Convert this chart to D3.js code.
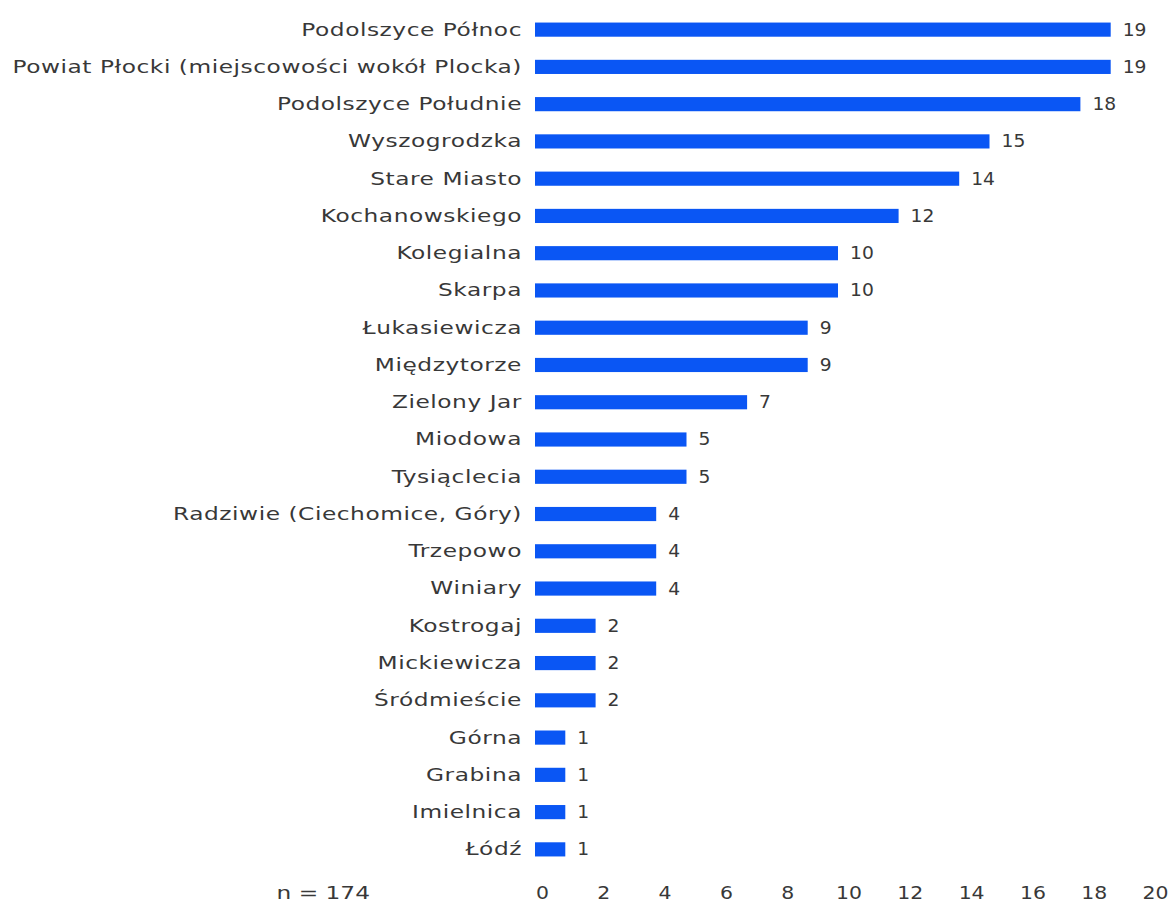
<!DOCTYPE html>
<html>
<head>
<meta charset="utf-8">
<script src="https://cdn.jsdelivr.net/npm/d3@7"></script>
<style>
  body { margin: 0; background: #fff; }
  svg text { font-family: "DejaVu Sans", sans-serif; fill: #383838; font-size: 17px; }
</style>
</head>
<body>
<svg id="chart" width="1172" height="907"></svg>
<script>
// data
var categories = [
    'Podolszyce Północ',
    'Powiat Płocki (miejscowości wokół Plocka)',
    'Podolszyce Południe',
    'Wyszogrodzka',
    'Stare Miasto',
    'Kochanowskiego',
    'Kolegialna',
    'Skarpa',
    'Łukasiewicza',
    'Międzytorze',
    'Zielony Jar',
    'Miodowa',
    'Tysiąclecia',
    'Radziwie (Ciechomice, Góry)',
    'Trzepowo',
    'Winiary',
    'Kostrogaj',
    'Mickiewicza',
    'Śródmieście',
    'Górna',
    'Grabina',
    'Imielnica',
    'Łódź'
];
var counts = [19, 19, 18, 15, 14, 12, 10, 10, 9, 9, 7, 5, 5, 4, 4, 4, 2, 2, 2, 1, 1, 1, 1];
var tickValues = [0, 2, 4, 6, 8, 10, 12, 14, 16, 18, 20];
var sampleNote = 'n = 174';

var data = categories.map(function(c, i) {
    return {name: c, value: counts[i]};
});

var svg = d3.select('#chart');

// original font is a wide geometric sans, so stretch DejaVu a bit
var stretch = 1.37;

var xScale = d3.scaleLinear()
    .domain([0, 20])
    .range([535, 1141]);

// the tick labels in the picture sit on a slightly wider spread than the bars
var axisScale = d3.scaleLinear()
    .domain([0, 20])
    .range([542, 1155]);

var yScale = d3.scaleBand()
    .domain(categories)
    .range([11, 868])
    .paddingInner(0.62)
    .paddingOuter(0.31);

var g = svg.append('g');

g.selectAll('rect.bar')
    .data(data)
    .join('rect')
    .attr('class', 'bar')
    .attr('x', xScale(0))
    .attr('y', function(d) { return yScale(d.name); })
    .attr('width', function(d) { return xScale(d.value) - xScale(0); })
    .attr('height', yScale.bandwidth())
    .style('fill', '#0a56f4');

g.selectAll('text.cat')
    .data(data)
    .join('text')
    .attr('class', 'cat')
    .attr('transform', function(d) {
        return `translate(522,${yScale(d.name) + yScale.bandwidth() / 2}) scale(${stretch},1)`;
    })
    .attr('dy', '0.35em')
    .attr('text-anchor', 'end')
    .style('letter-spacing', '0.4px')
    .text(function(d) { return d.name; });

g.selectAll('text.val')
    .data(data)
    .join('text')
    .attr('class', 'val')
    .attr('transform', function(d) {
        return `translate(${xScale(d.value) + 12},${yScale(d.name) + yScale.bandwidth() / 2}) scale(1.1,1)`;
    })
    .attr('dy', '0.35em')
    .text(function(d) { return d.value; });

var axis = svg.append('g')
    .attr('transform', 'translate(0,886)')
    .call(d3.axisBottom(axisScale).tickValues(tickValues).tickSize(0).tickPadding(0));
axis.select('.domain').remove();
axis.selectAll('text')
    .attr('dy', '0.35em')
    .attr('y', 0)
    .attr('transform', 'translate(0,7) scale(1.2,1)')
    .style('font-family', '"DejaVu Sans", sans-serif')
    .style('font-size', '17px')
    .style('fill', '#383838');

svg.append('text')
    .attr('transform', `translate(370,893) scale(${stretch},1)`)
    .attr('dy', '0.35em')
    .attr('text-anchor', 'end')
    .text(sampleNote);
</script>
</body>
</html>
